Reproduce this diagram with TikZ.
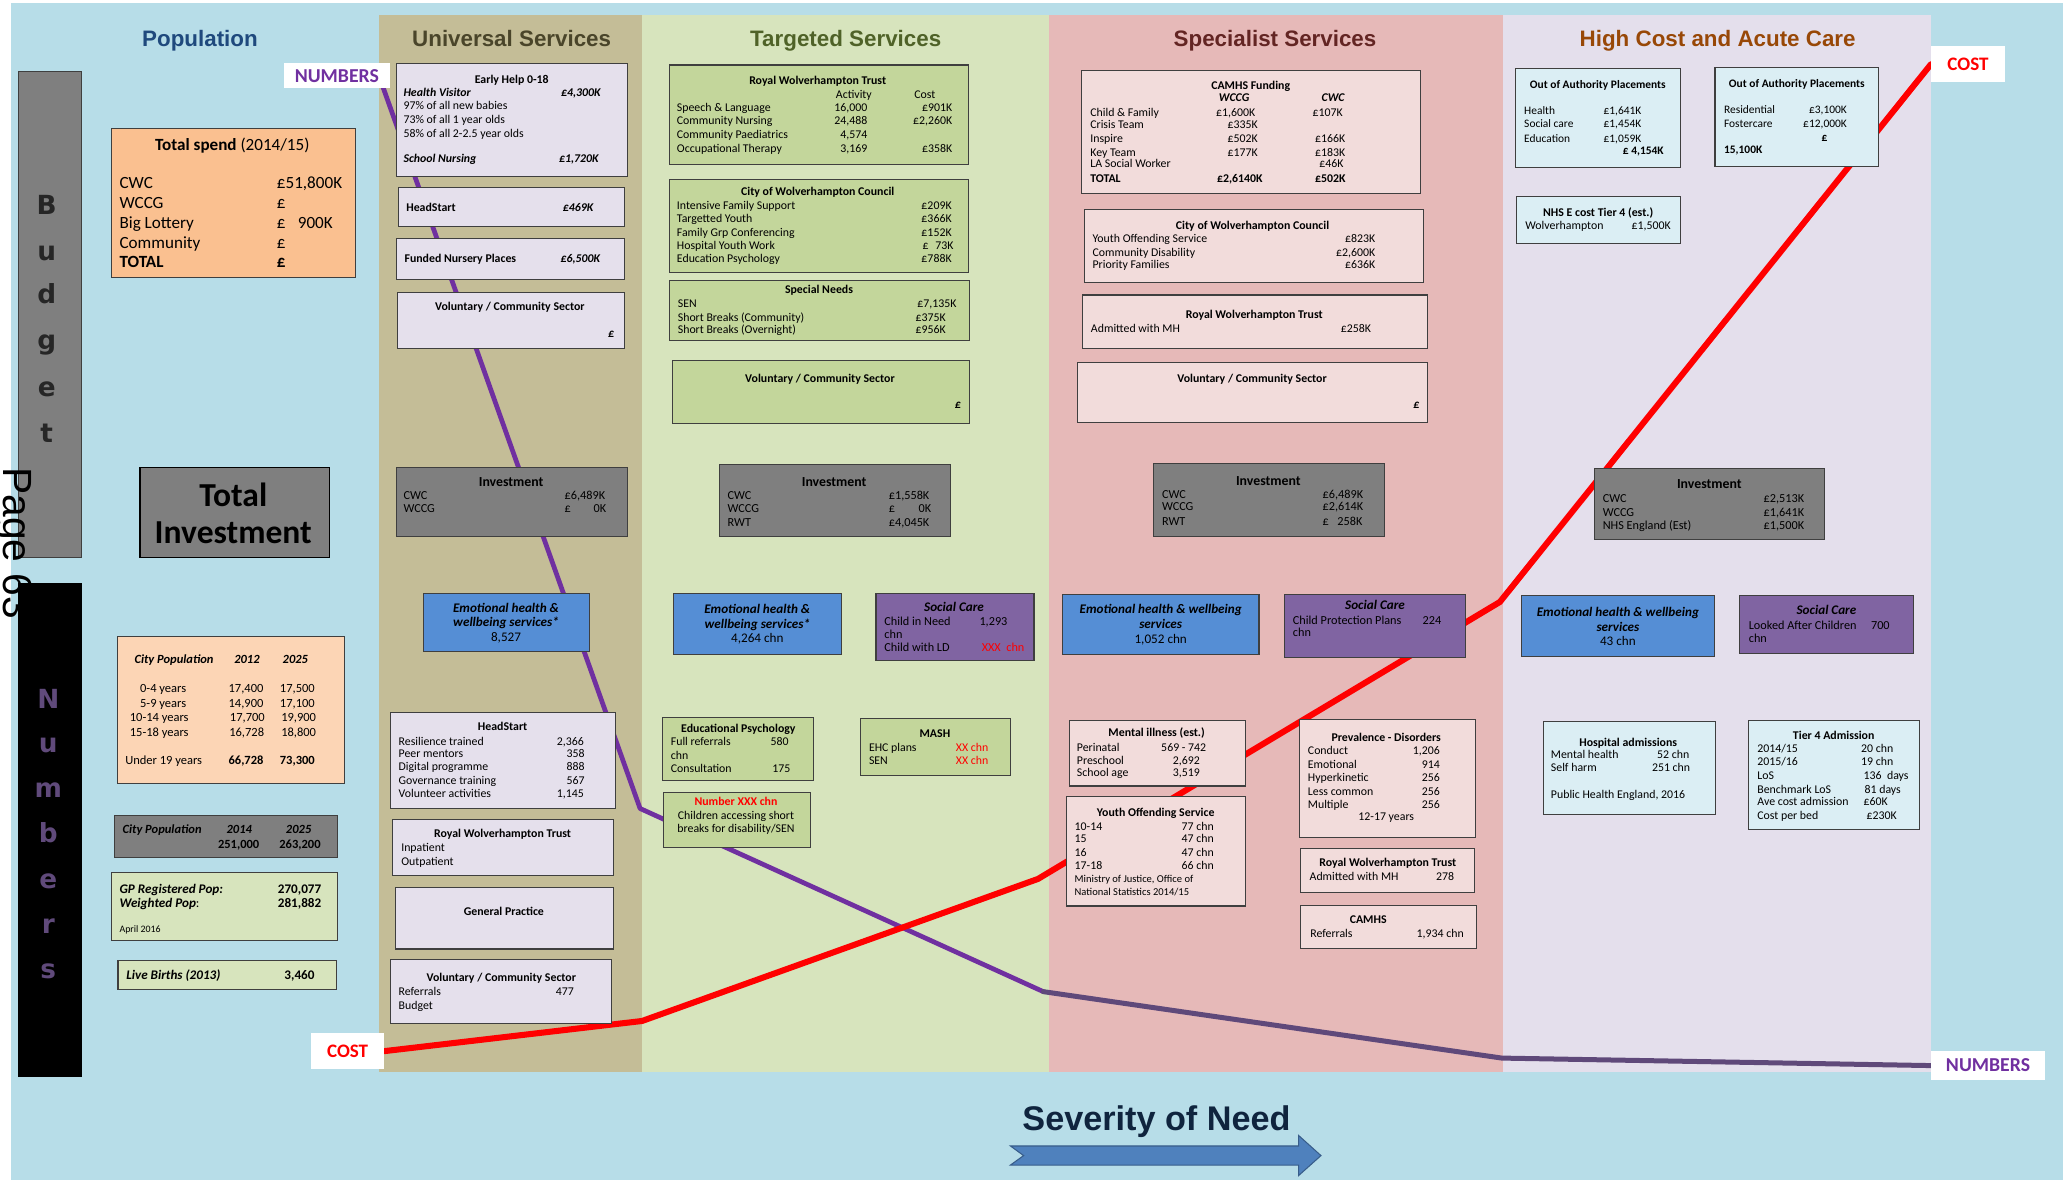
\documentclass[tikz,border=0pt]{standalone}
\usepackage{fontspec}
\setmainfont{Carlito}
\newfontfamily\arialf{Liberation Sans}
\newfontfamily\dejaf{DejaVu Sans}
\usetikzlibrary{fit}
\pgfdeclarelayer{bg}
\pgfdeclarelayer{lines}
\pgfsetlayers{bg,lines,main}

\definecolor{bgblue}{HTML}{B7DDE8}
\definecolor{coltan}{HTML}{C4BD97}
\definecolor{colgreen}{HTML}{D7E4BD}
\definecolor{colpink}{HTML}{E6B9B8}
\definecolor{collav}{HTML}{E4DFEC}
\definecolor{bxlav}{HTML}{E5E0EC}
\definecolor{bxgreen}{HTML}{C3D69B}
\definecolor{bxpink}{HTML}{F2DCDB}
\definecolor{bxblue}{HTML}{DBEEF4}
\definecolor{bxgray}{HTML}{7F7F7F}
\definecolor{bxemo}{HTML}{558ED5}
\definecolor{bxsoc}{HTML}{8064A2}
\definecolor{bxorange}{HTML}{FAC090}
\definecolor{bxpeach}{HTML}{FCD5B5}
\definecolor{bxgp}{HTML}{D7E4BD}
\definecolor{boxline}{HTML}{3F3F3F}
\definecolor{numpurple}{HTML}{7030A0}
\definecolor{numdark}{HTML}{5F497A}
\definecolor{costred}{HTML}{FF0000}
\definecolor{hpop}{HTML}{1F497D}
\definecolor{huni}{HTML}{4A452A}
\definecolor{htar}{HTML}{4F6228}
\definecolor{hspe}{HTML}{632523}
\definecolor{hhc}{HTML}{984807}
\definecolor{budtext}{HTML}{262626}
\definecolor{numtext}{HTML}{604A7B}
\definecolor{sevtext}{HTML}{0F243E}
\definecolor{arrfill}{HTML}{4F81BD}
\definecolor{arrline}{HTML}{385D8A}

\newcommand\fsz[1]{\fontsize{#1}{#1}\selectfont}
\newcounter{tn}
\newcommand\off{2.7}
\newcommand\txL[4][]{\stepcounter{tn}\node[tx,anchor=base west,#1] (t\thetn) at (#2,#3+\off) {#4};}
\newcommand\txR[4][]{\stepcounter{tn}\node[tx,anchor=base east,#1] (t\thetn) at (#2,#3+\off) {#4};}
\newcommand\txC[4][]{\stepcounter{tn}\node[tx,anchor=base,#1] (t\thetn) at (#2,#3+\off) {#4};}
\newcommand\bx[6]{\node[box,fill=#6,fit={(#2,#3)(#4,#5)}] (#1) {};}

\begin{document}
\begin{tikzpicture}[x=1pt,y=-1pt,
  tx/.style={inner sep=0pt,font=\fsz{9}},
  f8/.style={font=\fsz{8}},
  f87/.style={font=\fsz{8.7}},
  f93/.style={font=\fsz{9.3}},
  f95/.style={font=\fsz{9.5}},
  f10/.style={font=\fsz{10}},
  f105/.style={font=\fsz{10.5}},
  f13/.style={font=\fsz{13}},
  box/.style={draw=boxline,line width=0.8pt,inner sep=0pt,outer sep=0pt},
  lbl/.style={fill=white,inner sep=0pt,font=\bfseries\fsz{15}},
  hdr/.style={inner sep=0pt,anchor=base,font=\arialf\bfseries\fsz{17}},
  letter/.style={inner sep=0pt,anchor=base,font=\dejaf\bfseries\fsz{20}},
  numline/.style={draw=numpurple,line width=3.6pt,line cap=round,line join=round},
  numline2/.style={draw=numdark,line width=3.8pt,line cap=round,line join=round},
  costline/.style={draw=costred,line width=4.6pt,line cap=round,line join=round}]

\useasboundingbox (0,0) rectangle (1568,897);

% ---------- backgrounds and service bands ----------
\begin{pgfonlayer}{bg}
\fill[white] (0,0) rectangle (1568,897);
\fill[bgblue] (8,2.5) rectangle (1568,897);
\fill[coltan] (288,11.4) rectangle (488,814.5);
\fill[colgreen] (488,11.4) rectangle (797,814.5);
\fill[colpink] (797,11.4) rectangle (1142,814.5);
\fill[collav] (1142,11.4) rectangle (1467.8,814.5);
\end{pgfonlayer}

% ---------- column headings ----------
\node[hdr,text=hpop] (hPop) at (152,35.1) {Population};
\node[hdr,text=huni] (hUni) at (388.9,35.1) {Universal Services};
\node[hdr,text=htar] (hTar) at (642.8,35.1) {Targeted Services};
\node[hdr,text=hspe] (hSpe) at (969.1,35.1) {Specialist Services};
\node[hdr,text=hhc] (hHC) at (1305.5,35.1) {High Cost and Acute Care};

% ---------- left panel ----------
\bx{tsp}{85}{98}{270}{211}{bxorange}
\renewcommand\off{3.9}
\txC[f13]{176.6}{110.5}{\textbf{Total spend} (2014/15)}
\txL[f13]{90.7}{139.6}{CWC}\txL[f13]{210.3}{139.6}{£51,800K}
\txL[f13]{90.7}{154.2}{WCCG}\txL[f13]{210.3}{154.2}{£}
\txL[f13]{90.7}{169.6}{Big Lottery}\txL[f13]{210.3}{169.6}{£}\txL[f13]{226.2}{169.6}{900K}
\txL[f13]{90.7}{184.7}{Community}\txL[f13]{210.3}{184.7}{£}
\txL[f13]{90.7}{199.2}{\textbf{TOTAL}}\txL[f13]{210.3}{199.2}{\textbf{£}}

\node[box,fill=bxgray,draw=black,fit={(106.4,355.4)(250.3,424)}] (totinv) {};
\renewcommand\off{8.5}
\txC[font=\bfseries\fsz{25.5}]{177.3}{376.7}{Total}
\txC[font=\bfseries\fsz{25.5}]{177.3}{404.3}{Investment}

\bx{cpop}{89.2}{484}{261.7}{595.3}{bxpeach}
\renewcommand\off{2.9}
\txC[f95]{132.3}{501.2}{\textbf{\textit{City Population}}}
\txC[f95]{187.7}{501.2}{\textbf{\textit{2012}}}
\txC[f95]{224.5}{501.2}{\textbf{\textit{2025}}}
\txC[f95]{124}{523.3}{0-4 years}\txC[f95]{187}{523.3}{17,400}\txC[f95]{226}{523.3}{17,500}
\txC[f95]{124}{534.7}{5-9 years}\txC[f95]{187}{534.7}{14,900}\txC[f95]{226}{534.7}{17,100}
\txC[f95]{121}{545.3}{10-14 years}\txC[f95]{188}{545.3}{17,700}\txC[f95]{227}{545.3}{19,900}
\txC[f95]{121}{556.7}{15-18 years}\txC[f95]{187.5}{556.7}{16,728}\txC[f95]{227}{556.7}{18,800}
\txL[f95]{95}{578.4}{Under 19 years}\txC[f95]{187}{578.4}{\textbf{66,728}}\txC[f95]{226}{578.4}{\textbf{73,300}}

\bx{cpop2}{86.9}{620}{256.4}{651.4}{bxgray}
\txL[f95]{93}{630.6}{\textbf{\textit{City Population}}}
\txC[f95]{181.9}{630.6}{\textbf{\textit{2014}}}
\txC[f95]{227}{630.6}{\textbf{\textit{2025}}}
\txC[f95]{181.4}{642}{\textbf{251,000}}
\txC[f95]{228}{642}{\textbf{263,200}}

\bx{gpreg}{84.9}{663.2}{256.4}{715}{bxgp}
\renewcommand\off{3}
\txL[f10]{90.7}{675.8}{\textbf{\textit{GP Registered Pop:}}}\txL[f10]{211}{675.8}{\textbf{270,077}}
\txL[f10]{90.7}{687.1}{\textbf{\textit{Weighted Pop}}:}\txL[f10]{211}{687.1}{\textbf{281,882}}
\txL[font=\fsz{7.5}]{90.7}{706}{April 2016}

\bx{births}{89.7}{729.7}{256}{752.3}{bxgp}
\txL[f10]{95.8}{741.1}{\textbf{\textit{Live Births (2013)}}}\txL[f10]{216}{741.1}{\textbf{3,460}}

% ---------- universal services ----------
\renewcommand\off{2.7}
\bx{uEarly}{301.6}{48.3}{476.8}{133.8}{bxlav}
\txC{389}{61}{\textbf{Early Help 0-18}}
\txL{306.5}{71}{\textbf{\textit{Health Visitor}}}\txR{457}{71}{\textbf{\textit{£4,300K}}}
\txL{306.5}{80.6}{97\% of all new babies}
\txL{306.5}{91.5}{73\% of all 1 year olds}
\txL{306.5}{101.8}{58\% of all 2-2.5 year olds}
\txL{306.5}{121}{\textbf{\textit{School Nursing}}}\txR{455.5}{121}{\textbf{\textit{£1,720K}}}

\bx{uHead}{302.8}{142.5}{474.5}{172.4}{bxlav}
\txL{308.6}{158}{\textbf{HeadStart}}\txR{451.5}{158}{\textbf{\textit{£469K}}}

\bx{uNursery}{301}{181}{474.5}{212.5}{bxlav}
\txL{307.3}{197}{\textbf{Funded Nursery Places}}\txR{456.6}{197}{\textbf{\textit{£6,500K}}}

\bx{uVol}{302}{222.6}{474.5}{265}{bxlav}
\txC{387.5}{233.4}{\textbf{Voluntary / Community Sector}}
\txL{462}{254}{\textbf{\textit{£}}}

\node[box,fill=bxgray,fit={(301,355)(477,408)}] (uInv) {};
\renewcommand\off{3.1}
\txC[f105]{388.5}{367}{\textbf{Investment}}
\renewcommand\off{2.8}
\txL[f93]{306.5}{377}{CWC}\txL[f93]{429}{377}{£6,489K}
\txL[f93]{306.5}{386.5}{WCCG}\txL[f93]{429}{386.5}{£}\txR[f93]{461}{386.5}{0K}

\bx{uEmo}{321.7}{450.9}{448.4}{494.9}{bxemo}
\renewcommand\off{3}
\txC[f10]{384.6}{462.4}{\textbf{\textit{Emotional health \&}}}
\txC[f10]{384.6}{473.3}{\textbf{\textit{wellbeing services*}}}
\txC[f10]{384.6}{484.4}{8,527}

\renewcommand\off{2.7}
\bx{uHead2}{297}{541.7}{468}{614.5}{bxlav}
\txC{382}{552.8}{\textbf{HeadStart}}
\txL{302.8}{563.7}{Resilience trained}\txR{444}{563.7}{2,366}
\txL{302.8}{573.4}{Peer mentors}\txR{444.6}{573.4}{358}
\txL{302.8}{583.2}{Digital programme}\txR{444.6}{583.2}{888}
\txL{302.8}{593.9}{Governance training}\txR{444.6}{593.9}{567}
\txL{302.8}{603.8}{Volunteer activities}\txR{444}{603.8}{1,145}

\bx{uRwt}{298.5}{622.7}{466.2}{665.3}{bxlav}
\txC{382}{634}{\textbf{Royal Wolverhampton Trust}}
\txL{304.8}{644.8}{Inpatient}
\txL{304.8}{654.9}{Outpatient}

\bx{uGp}{300.5}{674.4}{466.2}{721.3}{bxlav}
\txC{383}{693.4}{\textbf{General Practice}}

\bx{uVol2}{297}{729}{464.6}{778}{bxlav}
\txC{381}{743.6}{\textbf{Voluntary / Community Sector}}
\txL{302.8}{754.3}{Referrals}\txR{436.3}{754.3}{477}
\txL{302.8}{764.4}{Budget}

% ---------- targeted services ----------
\bx{tRwt}{508.5}{49.4}{736}{124.9}{bxgreen}
\txC{621.5}{61.9}{\textbf{Royal Wolverhampton Trust}}
\txC{649}{71.9}{Activity}\txC{703}{71.9}{Cost}
\txL{514.3}{82.2}{Speech \& Language}\txR{659.5}{82.2}{16,000}\txR{724}{82.2}{£901K}
\txL{514.3}{92.3}{Community Nursing}\txR{659.5}{92.3}{24,488}\txR{724}{92.3}{£2,260K}
\txL{514.3}{102.3}{Community Paediatrics}\txR{659.5}{102.3}{4,574}
\txL{514.3}{112.9}{Occupational Therapy}\txR{659.5}{112.9}{3,169}\txR{724}{112.9}{£358K}

\bx{tCwc}{508.5}{136.3}{736}{206.8}{bxgreen}
\txC{621.5}{146}{\textbf{City of Wolverhampton Council}}
\txL{514.3}{156.9}{Intensive Family Support}\txR{723.5}{156.9}{£209K}
\txL{514.3}{166.7}{Targetted Youth}\txR{723.5}{166.7}{£366K}
\txL{514.3}{176.7}{Family Grp Conferencing}\txR{723.5}{176.7}{£152K}
\txL{514.3}{187.3}{Hospital Youth Work}\txL{701}{187.3}{£}\txR{725}{187.3}{73K}
\txL{514.3}{197.1}{Education Psychology}\txR{723.5}{197.1}{£788K}

\bx{tSen}{509.2}{213}{737}{259}{bxgreen}
\txC{622.5}{220.7}{\textbf{Special Needs}}
\txL{515}{231.3}{SEN}\txL{697}{231.3}{£7,135K}
\txL{515}{241.3}{Short Breaks (Community)}\txL{695.7}{241.3}{£375K}
\txL{515}{251.1}{Short Breaks (Overnight)}\txL{695.7}{251.1}{£956K}

\bx{tVol}{511}{274}{737}{321.7}{bxgreen}
\txC{623.2}{287.7}{\textbf{Voluntary / Community Sector}}
\txL{725.5}{308}{\textbf{\textit{£}}}

\node[box,fill=bxgray,fit={(546.8,352.9)(722.4,407.7)}] (tInv) {};
\renewcommand\off{3.1}
\txC[f105]{634}{366.4}{\textbf{Investment}}
\renewcommand\off{2.8}
\txL[f93]{552.8}{376.5}{CWC}\txL[f93]{675.4}{376.5}{£1,558K}
\txL[f93]{552.8}{386.5}{WCCG}\txL[f93]{675.4}{386.5}{£}\txR[f93]{708}{386.5}{0K}
\txL[f93]{552.8}{397.1}{RWT}\txL[f93]{675.4}{397.1}{£4,045K}

\bx{tEmo}{511.8}{450.9}{639.7}{497.8}{bxemo}
\renewcommand\off{3}
\txC[f10]{575.6}{463.6}{\textbf{\textit{Emotional health \&}}}
\txC[f10]{575.6}{474.5}{\textbf{\textit{wellbeing services*}}}
\txC[f10]{575.6}{485.7}{4,264 chn}

\bx{tSoc}{665.8}{450.9}{785.9}{502}{bxsoc}
\txC[f10]{725.1}{461.6}{\textbf{\textit{Social Care}}}
\renewcommand\off{2.8}
\txL[f93]{672}{472.6}{Child in Need}\txL[f93]{744.3}{472.6}{1,293}
\txL[f93]{672}{482.2}{chn}
\txL[f93]{672}{492.1}{Child with LD}\txL[f93,text=costred]{746}{492.1}{XXX\ \ chn}

\renewcommand\off{2.7}
\bx{tEp}{503.4}{545.2}{618.4}{593.4}{bxgreen}
\txC{561.2}{554.3}{\textbf{Educational Psychology}}
\txL{509.7}{564.2}{Full referrals}\txL{585.6}{564.2}{580}
\txL{509.7}{574.3}{chn}
\txL{509.7}{584.7}{Consultation}\txL{586.8}{584.7}{175}

\bx{tShort}{504.2}{602}{615.9}{644}{bxgreen}
\txC[text=costred]{559.4}{609.8}{\textbf{Number XXX chn}}
\txC{559.4}{620}{Children accessing short}
\txC{559.4}{630.4}{breaks for disability/SEN}

\bx{tMash}{654}{546.2}{768.2}{589.5}{bxgreen}
\txC{710.6}{558.2}{\textbf{MASH}}
\txL{660.3}{568.1}{EHC plans}\txL[text=costred]{726.4}{568.1}{XX chn}
\txL{660.3}{578}{SEN}\txL[text=costred]{726.4}{578}{XX chn}

% ---------- specialist services ----------
\bx{sCamhs}{821.9}{53.7}{1080}{147.1}{bxpink}
\txC{950.6}{65.1}{\textbf{CAMHS Funding}}
\txC{938}{74.6}{\textbf{\textit{WCCG}}}\txC{1013.4}{74.6}{\textbf{\textit{CWC}}}
\txL{828.5}{85.5}{Child \& Family}\txL{924.1}{85.5}{£1,600K}\txL{997.4}{85.5}{£107K}
\txL{828.5}{95.3}{Crisis Team}\txL{932.9}{95.3}{£335K}
\txL{828.5}{105.3}{Inspire}\txL{932.9}{105.3}{£502K}\txL{999.4}{105.3}{£166K}
\txL{828.5}{115.9}{Key Team}\txL{932.9}{115.9}{£177K}\txL{999.4}{115.9}{£183K}
\txL{828.5}{124.9}{LA Social Worker}\txL{1002.5}{124.9}{£46K}
\txL{828.5}{136.3}{\textbf{TOTAL}}\txL{924.8}{136.3}{\textbf{£2,6140K}}\txL{999.4}{136.3}{\textbf{£502K}}

\bx{sCwc}{824}{159.3}{1082}{214.4}{bxpink}
\txC{952}{171.6}{\textbf{City of Wolverhampton Council}}
\txL{830.2}{181.9}{Youth Offending Service}\txR{1045.5}{181.9}{£823K}
\txL{830.2}{191.9}{Community Disability}\txR{1045.5}{191.9}{£2,600K}
\txL{830.2}{201.7}{Priority Families}\txR{1045.5}{201.7}{£636K}

\bx{sRwt}{822.6}{224.2}{1084.8}{265.2}{bxpink}
\txC{953.3}{239.7}{\textbf{Royal Wolverhampton Trust}}
\txL{829}{250}{Admitted with MH}\txL{1019}{250}{£258K}

\bx{sVol}{818.9}{275.5}{1084.8}{320.8}{bxpink}
\txC{951.6}{288.3}{\textbf{Voluntary / Community Sector}}
\txL{1074}{308}{\textbf{\textit{£}}}

\node[box,fill=bxgray,fit={(876.6,352)(1052.2,407.7)}] (sInv) {};
\renewcommand\off{3.1}
\txC[f105]{964}{365.6}{\textbf{Investment}}
\renewcommand\off{2.8}
\txL[f93]{883}{376}{CWC}\txL[f93]{1005.1}{376}{£6,489K}
\txL[f93]{883}{385.5}{WCCG}\txL[f93]{1005.1}{385.5}{£2,614K}
\txL[f93]{883}{396.3}{RWT}\txL[f93]{1005.1}{396.3}{£}\txR[f93]{1035.7}{396.3}{258K}

\bx{sEmo}{807.7}{451.7}{956.9}{497.8}{bxemo}
\renewcommand\off{3}
\txC[f10]{882.2}{463.6}{\textbf{\textit{Emotional health \& wellbeing}}}
\txC[f10]{882.2}{475}{\textbf{\textit{services}}}
\txC[f10]{882.2}{485.9}{1,052 chn}

\bx{sSoc}{976.2}{451.5}{1114}{499.6}{bxsoc}
\txC[f10]{1045.1}{460.6}{\textbf{\textit{Social Care}}}
\renewcommand\off{2.8}
\txL[f93]{982.5}{471.5}{Child Protection Plans}\txL[f93]{1081.1}{471.5}{224}
\txL[f93]{982.5}{480.9}{chn}

\renewcommand\off{2.7}
\bx{sMental}{812.7}{547.8}{946.7}{597.4}{bxpink}
\txC{879.1}{557.4}{\textbf{Mental illness (est.)}}
\txL{818.3}{568.1}{Perinatal}\txC{899.7}{568.1}{569 - 742}
\txL{818.3}{578}{Preschool}\txL{891.3}{578}{2,692}
\txL{818.3}{587.8}{School age}\txL{891.3}{587.8}{3,519}

\bx{sYos}{810.7}{605.5}{946.7}{688.6}{bxpink}
\txC{878.4}{618.2}{\textbf{Youth Offending Service}}
\txL{816.6}{628.4}{10-14}\txL{897.9}{628.4}{77 chn}
\txL{816.6}{638}{15}\txL{897.9}{638}{47 chn}
\txL{816.6}{648.6}{16}\txL{897.9}{648.6}{47 chn}
\txL{816.6}{658.5}{17-18}\txL{897.9}{658.5}{66 chn}
\txL[f8]{816.6}{668.2}{Ministry of Justice, Office of}
\txL[f8]{816.6}{678.1}{National Statistics 2014/15}

\bx{sPrev}{987.8}{547}{1121.6}{636.2}{bxpink}
\txC{1053.6}{561.2}{\textbf{Prevalence - Disorders}}
\txL{993.9}{571.1}{Conduct}\txR{1094.5}{571.1}{1,206}
\txL{993.9}{581.7}{Emotional}\txR{1094.5}{581.7}{914}
\txL{993.9}{591.6}{Hyperkinetic}\txR{1094.5}{591.6}{256}
\txL{993.9}{602.2}{Less common}\txR{1094.5}{602.2}{256}
\txL{993.9}{612.1}{Multiple}\txR{1094.5}{612.1}{256}
\txC{1053.6}{621.2}{12-17 years}

\bx{sRwt2}{988.8}{644.8}{1120.8}{678}{bxpink}
\txC{1054.8}{656.2}{\textbf{Royal Wolverhampton Trust}}
\txL{995.2}{666.8}{Admitted with MH}\txL{1091.4}{666.8}{278}

\bx{sCamhs2}{988.8}{688.1}{1122.4}{720.8}{bxpink}
\txC{1039.9}{699.5}{\textbf{CAMHS}}
\txL{995.7}{710.1}{Referrals}\txR{1112.7}{710.1}{1,934 chn}

% ---------- high cost and acute care ----------
\bx{hOap}{1151.6}{52.1}{1277}{127.3}{bxblue}
\txC[f87]{1214.4}{64.3}{\textbf{Out of Authority Placements}}
\txL[f87]{1158.3}{84.7}{Health}\txL[f87]{1218.6}{84.7}{£1,641K}
\txL[f87]{1158.3}{94.5}{Social care}\txL[f87]{1218.6}{94.5}{£1,454K}
\txL[f87]{1158.3}{105.3}{Education}\txL[f87]{1218.6}{105.3}{£1,059K}
\txR[f87]{1264.7}{115.1}{\textbf{£ 4,154K}}

\bx{hOap2}{1303.5}{51}{1427.7}{126.5}{bxblue}
\txC[f87]{1365.7}{63.5}{\textbf{Out of Authority Placements}}
\txL[f87]{1310.2}{83.9}{Residential}\txR[f87]{1403.9}{83.9}{£3,100K}
\txL[f87]{1310.2}{93.9}{Fostercare}\txR[f87]{1403.9}{93.9}{£12,000K}
\txC[f87]{1386.7}{104.5}{\textbf{£}}
\txL[f87]{1310.2}{114.3}{\textbf{15,100K}}

\bx{hNhs}{1152.5}{149.3}{1277.5}{185.4}{bxblue}
\txC{1214.7}{162}{\textbf{NHS E cost Tier 4 (est.)}}
\txL{1159.2}{172.1}{Wolverhampton}\txR{1270}{172.1}{£1,500K}

\node[box,fill=bxgray,fit={(1211.7,356.1)(1386.8,410.4)}] (hInv) {};
\renewcommand\off{3.1}
\txC[f105]{1299.2}{368.4}{\textbf{Investment}}
\renewcommand\off{2.8}
\txL[f93]{1218}{379.5}{CWC}\txL[f93]{1340.3}{379.5}{£2,513K}
\txL[f93]{1218}{389.5}{WCCG}\txL[f93]{1340.3}{389.5}{£1,641K}
\txL[f93]{1218}{399.3}{NHS England (Est)}\txL[f93]{1340.3}{399.3}{£1,500K}

\bx{hEmo}{1156.4}{452.8}{1303.4}{499.2}{bxemo}
\renewcommand\off{3}
\txC[f10]{1229.7}{465.4}{\textbf{\textit{Emotional health \& wellbeing}}}
\txC[f10]{1229.7}{476.8}{\textbf{\textit{services}}}
\txC[f10]{1229.7}{487.5}{43 chn}

\bx{hSoc}{1322.3}{452.8}{1454}{496.6}{bxsoc}
\txC[f10]{1388.2}{464.4}{\textbf{\textit{Social Care}}}
\renewcommand\off{2.8}
\txL[f93]{1329}{475.3}{Looked After Children}\txL[f93]{1421.9}{475.3}{700}
\txL[f93]{1329}{485.4}{chn}

\renewcommand\off{2.7}
\bx{hHosp}{1172.8}{548.5}{1303.7}{619.4}{bxblue}
\txC{1237.5}{564.5}{\textbf{Hospital admissions}}
\txL{1178.6}{574.1}{Mental health}\txR{1284.2}{574.1}{52 chn}
\txL{1178.6}{584}{Self harm}\txR{1284.8}{584}{251 chn}
\txL{1178.6}{604.5}{Public Health England, 2016}

\bx{hTier}{1329.2}{547.8}{1459}{630.8}{bxblue}
\txC{1393.7}{559.2}{\textbf{Tier 4 Admission}}
\txL{1335.5}{569.5}{2014/15}\txL{1414.4}{569.5}{20 chn}
\txL{1335.5}{579.4}{2015/16}\txL{1414.4}{579.4}{19 chn}
\txL{1335.5}{589.5}{LoS}\txL{1416.3}{589.5}{136\ \ days}
\txL{1335.5}{600.2}{Benchmark LoS}\txL{1417}{600.2}{81 days}
\txL{1335.5}{609.8}{Ave cost admission}\txL{1416.3}{609.8}{£60K}
\txL{1335.5}{620}{Cost per bed}\txL{1418.5}{620}{£230K}

% ---------- line labels ----------
\node[lbl,text=numpurple,minimum width=81pt,minimum height=19pt] (numL) at (256,57.5) {NUMBERS};
\node[lbl,text=numpurple,minimum width=86.4pt,minimum height=22.2pt] (numR) at (1511,809.9) {NUMBERS};
\node[lbl,text=costred,font=\bfseries\fsz{14.5},minimum width=55.6pt,minimum height=27.1pt] (costL) at (264.2,798.9) {COST};
\node[lbl,text=costred,font=\bfseries\fsz{14.5},minimum width=55.9pt,minimum height=27.1pt] (costR) at (1495.75,48.85) {COST};

% ---------- numbers and cost lines ----------
\begin{pgfonlayer}{lines}
\coordinate (p0) at (287.1,55);
\coordinate (pb1) at (486.5,614.5);
\coordinate (pb2) at (793,753.7);
\coordinate (pb3) at (1141.5,804.2);
\coordinate (rb1) at (488,776);
\coordinate (rb2) at (789,668);
\coordinate (rb3) at (1140,457.5);
\draw[numline] (p0) -- (pb1) -- (pb2);
\draw[numline2] (pb2) -- (pb3) -- (numR.west);
\draw[costline] (costL.east) -- (rb1) -- (rb2) -- (rb3) -- (costR.west);
\end{pgfonlayer}

% ---------- budget and numbers bars ----------
\node[box,fill=bxgray,draw=boxline,fit={(13.9,54.7)(61.6,424)}] (budBar) {};
\foreach \ch/\yy [count=\i] in {B/163,u/198,d/231,g/266,e/301,t/336}
  {\node[letter,text=budtext] (bud\i) at (35.5,\yy) {\ch};}
\node[box,fill=black,draw=black,fit={(13.9,443.3)(62.3,817.8)}] (numBar) {};
\foreach \ch/\yy [count=\i] in {N/538.2,u/572,m/606,b/640,e/675,r/709.5,s/743.5}
  {\node[letter,text=numtext] (nlet\i) at (36.7,\yy) {\ch};}

% ---------- severity axis ----------
\node[inner sep=0pt,anchor=base,font=\arialf\bfseries\fsz{26},text=sevtext] (sev) at (879,859) {Severity of Need};
\filldraw[fill=arrfill,draw=arrline,line width=0.8pt,line join=miter]
  (768,871) -- (987,871) -- (987,863) -- (1004,878.3) -- (987,893.5) -- (987,885.5) -- (768,885.5) -- (778,878.3) -- cycle;

% ---------- page marker ----------
\node[inner sep=0pt,anchor=base west,rotate=-90,font=\arialf\fsz{31}] (page) at (3,355) {Page 63};
\end{tikzpicture}
\end{document}
